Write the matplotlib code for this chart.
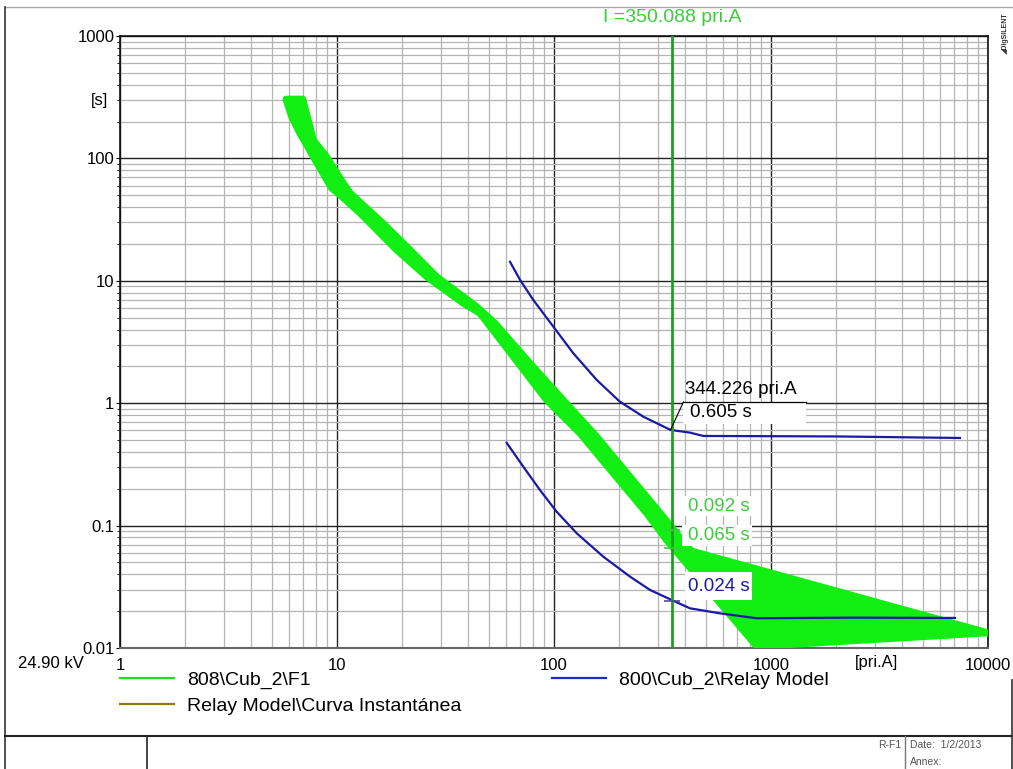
import numpy as np
import matplotlib
matplotlib.use("Agg")
import matplotlib.pyplot as plt
from matplotlib.lines import Line2D
from matplotlib.patches import Rectangle
from matplotlib.transforms import IdentityTransform, blended_transform_factory
from matplotlib.ticker import LogLocator

plt.rcParams['font.family'] = ['Liberation Sans', 'DejaVu Sans']

W, H = 1013, 769

# fuse 808\Cub_2\F1 : minimum melt / total clear (pri.A, s)
melt_I = [5.82, 6.18, 6.75, 7.78, 9.45, 10.1, 12.8, 18.8, 25.9, 38.2, 45.6, 64.9,
          92.5, 131.8, 187.6, 267.5, 330, 860, 10000]
melt_t = [305, 219, 160, 103, 57, 52, 35.6, 17.9, 10.8, 6.55, 5.42, 2.40,
          1.06, 0.567, 0.267, 0.126, 0.0762, 0.0103, 0.0133]
clear_I = [6.95, 7.37, 7.78, 8.96, 10.7, 11.5, 16.3, 21.7, 28.8, 44.0, 53.5, 77.5,
           110.4, 157.4, 224, 319, 367, 430, 10000]
clear_t = [305, 206, 141, 103, 62.6, 52, 29.5, 17.9, 10.8, 6.15, 4.50, 2.12,
           1.06, 0.533, 0.251, 0.118, 0.0865, 0.062, 0.0133]

# relay 800\Cub_2\Relay Model
relay_hi_I = [62.7, 69.7, 80.3, 99.3, 122.7, 157.3, 201, 258, 344.2, 423, 488, 889, 2000, 7430]
relay_hi_t = [14.3, 10.2, 6.97, 4.22, 2.56, 1.55, 1.03, 0.776, 0.605, 0.575, 0.54, 0.538, 0.535, 0.52]
relay_lo_I = [60.5, 72.2, 86.2, 102.8, 127.3, 168.8, 224, 277, 348, 423, 582, 859, 2394, 7046]
relay_lo_t = [0.475, 0.303, 0.195, 0.130, 0.0865, 0.0557, 0.0383, 0.0298, 0.0247, 0.0211,
              0.0192, 0.0175, 0.0177, 0.0176]

I_cursor = 350.088
I_mark, t_mark = 344.226, 0.605
t_fuse_clear, t_fuse_melt, t_relay = 0.092, 0.065, 0.024

x_ticks = [1, 10, 100, 1000, 10000]
x_labels = ['1', '10', '100', '1000', '10000']
y_ticks = [0.01, 0.1, 1, 10, 100, 1000]
y_labels = ['0.01', '0.1', '1', '10', '100', '1000']

legend_labels = ['808\\Cub_2\\F1', 'Relay Model\\Curva Instantánea', '800\\Cub_2\\Relay Model']

fig = plt.figure(figsize=(W / 100, H / 100), dpi=100)
ax = fig.add_axes([120 / W, 1 - 648 / H, 868 / W, 612 / H])
ax.set_xscale('log')
ax.set_yscale('log')
ax.set_xlim(1, 10000)
ax.set_ylim(0.01, 1000)

ax.fill(np.concatenate([melt_I, clear_I[::-1]]), np.concatenate([melt_t, clear_t[::-1]]),
        facecolor='#11ee11', edgecolor='#11ee11', lw=5, joinstyle='round', zorder=3)
ax.plot(relay_hi_I, relay_hi_t, color='#1a1aa5', lw=1.6, zorder=4, solid_joinstyle='round')
ax.plot(relay_lo_I, relay_lo_t, color='#1a1aa5', lw=1.6, zorder=4, solid_joinstyle='round')
ax.axvline(I_cursor, color='#1f9f1f', lw=2, zorder=4)

# grid
ax.xaxis.set_minor_locator(LogLocator(base=10, subs=range(2, 10), numticks=30))
ax.yaxis.set_minor_locator(LogLocator(base=10, subs=range(2, 10), numticks=30))
ax.set_xticks(x_ticks, x_labels)
ax.set_yticks(y_ticks, y_labels)
ax.grid(which='major', color='#222222', lw=1.0)
ax.grid(which='minor', color='#b4b4b4', lw=0.9)
ax.tick_params(axis='x', which='both', length=0, pad=7, labelsize=12)
ax.tick_params(axis='y', which='major', length=3, pad=1, labelsize=12)
ax.tick_params(axis='y', which='minor', length=2, labelleft=False)
for s in ax.spines.values():
    s.set_color('#111111')
    s.set_linewidth(1.2)
ax.spines['bottom'].set_color('#666666')
ax.spines['bottom'].set_linewidth(1.5)

ax.text(0.872, -7 / 612, '[pri.A]', transform=ax.transAxes, ha='center', va='top', fontsize=12)
ax.text(-21 / 868, 0.895, '[s]', transform=ax.transAxes, ha='center', va='center', fontsize=12)

# cursor label
trans = blended_transform_factory(ax.transData, ax.transAxes)
ax.text(I_cursor, 1.031, 'I =350.088 pri.A', transform=trans, ha='center', va='center',
        fontsize=14, color='#3ccc3c')

ident = IdentityTransform()


def disp(I, t):
    return ax.transData.transform((I, t))


def white_box(x, y, w, h):
    fig.add_artist(Rectangle((x, y), w, h, transform=ident, fc='white', ec='none', zorder=5))


# 344.226 pri.A / 0.605 s marker
x0, y0 = disp(I_mark, t_mark)
white_box(x0 + 13, y0 + 6, 123, 22)
fig.add_artist(Line2D([x0 + 13, x0 + 136], [y0 + 28, y0 + 28], transform=ident,
                      color='black', lw=0.9, zorder=6))
fig.add_artist(Line2D([x0, x0 + 13], [y0, y0 + 28], transform=ident,
                      color='black', lw=0.8, zorder=6))
fig.text(x0 + 15, y0 + 40, '344.226 pri.A', transform=ident, va='center', fontsize=13.5, zorder=6)
fig.text(x0 + 20, y0 + 17, '0.605 s', transform=ident, va='center', fontsize=13.5, zorder=6)

# fuse times at cursor
xc, yc = disp(I_cursor, t_fuse_clear)
white_box(xc + 12, yc + 14, 68, 20)
fig.text(xc + 16, yc + 24, '0.092 s', transform=ident, va='center', fontsize=13.5,
         color='#3ccc3c', zorder=6)
xm, ym = disp(I_cursor, t_fuse_melt)
white_box(xm + 10, ym + 2, 70, 21)
fig.text(xm + 16, ym + 12.5, '0.065 s', transform=ident, va='center', fontsize=13.5,
         color='#3ccc3c', zorder=6)
xr, yr = disp(I_cursor, t_relay)
white_box(xr + 13, yr + 1.5, 67, 28)
fig.text(xr + 16, yr + 14.5, '0.024 s', transform=ident, va='center', fontsize=13.5,
         color='#1a1aa5', zorder=6)
ax.plot([I_cursor, I_cursor], [t_fuse_clear, t_fuse_melt], ls='none', marker='_',
        ms=11, mew=1.2, color='#3ccc3c', zorder=6)
ax.plot([I_cursor], [t_relay], ls='none', marker='_', ms=12, mew=1.2, color='#4a4a9a', zorder=6)

# legend
handles = [Line2D([], [], color='#22dd22', lw=1.6),
           Line2D([], [], color='#8a7a10', lw=1.6),
           Line2D([], [], color='#1c2cc0', lw=1.6)]
fig.legend(handles, legend_labels, loc='upper left', bbox_to_anchor=(120 / W, 1 - 671 / H),
           ncol=2, frameon=False, fontsize=14, handlelength=2.8, handletextpad=0.65,
           columnspacing=4.65, labelspacing=0.45, borderpad=0, borderaxespad=0)

fig.text(18 / W, 1 - 663 / H, '24.90 kV', ha='left', va='center', fontsize=12)


def page_line(x0, y0, x1, y1, color='#222222', lw=1.2):
    fig.add_artist(Line2D([x0 / W, x1 / W], [1 - y0 / H, 1 - y1 / H],
                          transform=fig.transFigure, color=color, lw=lw))


# page frame and title block
page_line(5, 7, W, 7, color='#aaaaaa', lw=1.0)
page_line(5, 7, 5, H, color='#333333', lw=1.2)
page_line(5, 736, 1012, 736, lw=1.5)
page_line(146.5, 736, 146.5, H)
page_line(905, 736, 905, H, color='#777777', lw=1.0)
page_line(1011.5, 680, 1011.5, H, color='#333333', lw=1.2)
fig.text(901 / W, 1 - 745 / H, 'R-F1', ha='right', va='center', fontsize=7.5, color='#555555')
fig.text(910 / W, 1 - 745 / H, 'Date:  1/2/2013', ha='left', va='center', fontsize=7.5, color='#555555')
fig.text(910 / W, 1 - 762 / H, 'Annex:', ha='left', va='center', fontsize=7.5, color='#555555')
fig.text(1005 / W, 1 - 33 / H, '◢DIgSILENT', rotation=90, ha='center', va='center',
         fontsize=5, fontweight='bold', color='#333333')

fig.savefig('out.png', dpi=100)
